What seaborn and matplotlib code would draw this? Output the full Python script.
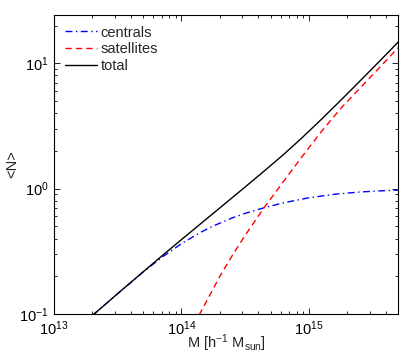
import numpy as np
import pandas as pd
import matplotlib
matplotlib.use("Agg")
import matplotlib.pyplot as plt
import seaborn as sns
from matplotlib.ticker import LogLocator

# ---- data (log10 halo mass, mean occupation) ----
logM_cen = [13.30, 13.50, 13.70, 13.85, 14.00, 14.15, 14.25, 14.40, 14.50,
            14.65, 14.80, 15.00, 15.20, 15.40, 15.55, 15.70]
N_cen = [0.097, 0.1455, 0.2163, 0.2851, 0.3641, 0.4482, 0.5041, 0.5848, 0.6353,
         0.7047, 0.7707, 0.8453, 0.9016, 0.940, 0.959, 0.974]

logM_sat = [14.10, 14.20, 14.30, 14.40, 14.50, 14.65, 14.80, 14.95, 15.10,
            15.25, 15.40, 15.55, 15.70]
N_sat = [0.083, 0.128, 0.199, 0.294, 0.425, 0.708, 1.14, 1.82, 2.87,
         4.37, 6.32, 9.16, 13.3]

logM_tot = [13.30, 13.50, 13.70, 13.85, 14.00, 14.15, 14.25, 14.40, 14.50,
            14.65, 14.80, 14.95, 15.10, 15.25, 15.40, 15.55, 15.70]
N_tot = [0.097, 0.1455, 0.2173, 0.2924, 0.3923, 0.5242, 0.636, 0.850, 1.032,
         1.384, 1.868, 2.568, 3.59, 5.07, 7.21, 10.29, 14.74]

series_names = ["centrals", "satellites", "total"]

sns.set_theme(style="ticks")
plt.rcParams["font.family"] = ["Liberation Sans", "DejaVu Sans"]
plt.rcParams["mathtext.fontset"] = "custom"
plt.rcParams["mathtext.rm"] = "Liberation Sans"
plt.rcParams["mathtext.it"] = "Liberation Sans:italic"
plt.rcParams["mathtext.bf"] = "Liberation Sans:bold"

fig = plt.figure(figsize=(4.07, 3.58), dpi=100)
ax = fig.add_axes([54 / 407, 1 - 314 / 358, (398 - 54) / 407, (314 - 14.5) / 358])

df_c = pd.DataFrame({"M": 10 ** np.array(logM_cen), "N": N_cen})
df_s = pd.DataFrame({"M": 10 ** np.array(logM_sat), "N": N_sat})
df_t = pd.DataFrame({"M": 10 ** np.array(logM_tot), "N": N_tot})

sns.lineplot(data=df_c, x="M", y="N", ax=ax, color="#0000ff", lw=1.0,
             linestyle=(0, (5, 2.5, 1, 2.5)), label=series_names[0])
sns.lineplot(data=df_s, x="M", y="N", ax=ax, color="#ff0000", lw=1.0,
             linestyle=(0, (4.5, 3)), label=series_names[1])
sns.lineplot(data=df_t, x="M", y="N", ax=ax, color="black", lw=1.0,
             linestyle="-", label=series_names[2])

ax.set_xscale("log")
ax.set_yscale("log")
ax.set_xlim(1e13, 5e15)
ax.set_ylim(0.1, 24.5)

ax.xaxis.set_major_locator(LogLocator(base=10, numticks=10))
ax.yaxis.set_major_locator(LogLocator(base=10, numticks=10))
ax.xaxis.set_minor_locator(LogLocator(base=10, subs=np.arange(2, 10), numticks=20))
ax.yaxis.set_minor_locator(LogLocator(base=10, subs=np.arange(2, 10), numticks=20))

ax.tick_params(which="both", direction="in", top=True, right=True,
               colors="black", labelsize=10.5, width=0.6)
ax.tick_params(which="major", length=4, pad=4)
ax.tick_params(which="minor", length=2.5)
for s in ax.spines.values():
    s.set_linewidth(0.8)
    s.set_color("black")

ax.set_xlabel(r"M [h$^{-1}$ M$_{\mathrm{sun}}$]", fontsize=10.5, labelpad=-4)
ax.set_ylabel("<N>", fontsize=10.5, labelpad=0)

leg = ax.legend(loc="upper left", bbox_to_anchor=(0.032, 0.963), frameon=False,
                fontsize=10.5, handlelength=2.2, handletextpad=0.25,
                labelspacing=0.2, borderaxespad=0.0, borderpad=0.0)

fig.savefig("out.png", dpi=100)
